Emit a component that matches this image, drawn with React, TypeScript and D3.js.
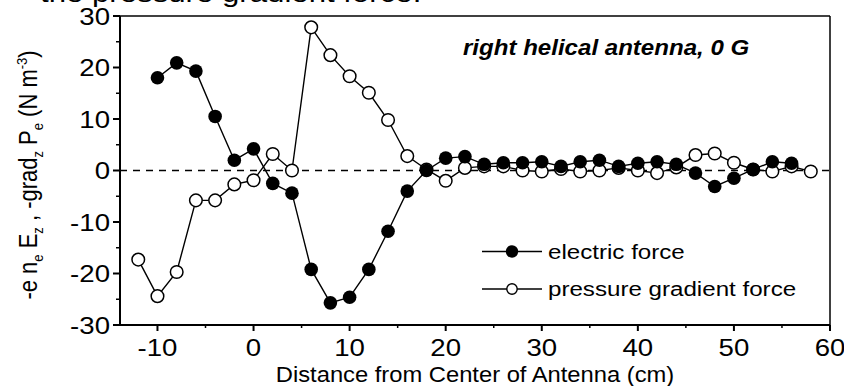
import * as d3 from 'd3';

// distance from antenna centre (cm)
const electricX = [-10, -8, -6, -4, -2, 0, 2, 4, 6, 8, 10, 12, 14, 16, 18, 20, 22, 24, 26, 28, 30, 32, 34, 36, 38, 40, 42, 44, 46, 48, 50, 52, 54, 56];
// -e n_e E_z  (N m^-3)
const electricForce = [18, 20.9, 19.3, 10.5, 2, 4.2, -2.5, -4.4, -19.2, -25.7, -24.6, -19.2, -11.8, -4, 0, 2.4, 2.7, 1.2, 1.5, 1.5, 1.7, 0.8, 1.7, 2, 0.8, 1.4, 1.7, 1.2, -0.5, -3.1, -1.5, 0.2, 1.7, 1.4];

const pressureX = [-12, -10, -8, -6, -4, -2, 0, 2, 4, 6, 8, 10, 12, 14, 16, 18, 20, 22, 24, 26, 28, 30, 32, 34, 36, 38, 40, 42, 44, 46, 48, 50, 52, 54, 56, 58];
// -grad_z P_e  (N m^-3)
const pressureForce = [-17.3, -24.4, -19.7, -5.8, -5.8, -2.7, -1.9, 3.2, 0, 27.8, 22.4, 18.3, 15.1, 9.8, 2.8, 0.2, -2, 0.5, 0.8, 0.8, 0, -0.2, 0.3, -0.2, 0, 0.5, 0, -0.5, 0.6, 3, 3.3, 1.5, 0.2, -0.2, 0.8, -0.2];

const xTicks = [-10, 0, 10, 20, 30, 40, 50, 60];
const xMinorTicks = [-5, 5, 15, 25, 35, 45, 55];
const yTicks = [-30, -20, -10, 0, 10, 20, 30];
const yMinorTicks = [-25, -15, -5, 5, 15, 25];

const legendLabels = ['electric force', 'pressure gradient force'];

const W = 844;
const H = 386;
const FONT = '"Liberation Sans", Arial, Helvetica, sans-serif';
const SX = 1.2; // the scan is stretched sideways

function Txt({ x, y, size, sx = SX, anchor = 'start', weight = 'normal', italic = false, children }: any) {
  return (
    <g transform={`translate(${x},${y}) scale(${sx},1)`}>
      <text
        fontFamily={FONT}
        fontSize={size}
        fontWeight={weight}
        fontStyle={italic ? 'italic' : 'normal'}
        textAnchor={anchor}
        fill="#000"
      >
        {children}
      </text>
    </g>
  );
}

export default function App() {
  const x = d3.scaleLinear().domain([-13.9, 60]).range([120, 830]);
  const y = d3.scaleLinear().domain([-30, 30]).range([325, 16]);
  const [x0, x1] = x.range();
  const [yb, yt] = y.range();

  const line = d3
    .line<[number, number]>()
    .x(d => x(d[0]))
    .y(d => y(d[1]));

  const elec: [number, number][] = electricX.map((v, i) => [v, electricForce[i]]);
  const pres: [number, number][] = pressureX.map((v, i) => [v, pressureForce[i]]);

  const legY = [251.5, 289];

  return (
    <svg width={W} height={H} style={{ position: 'absolute', left: 0, top: 0, background: '#fff' }}>
      <rect width={W} height={H} fill="#fff" />

      {/* caption text cut off at the top of the scan */}
      <Txt x={40} y={2} size={26}>the pressure gradient force.</Txt>

      {/* zero line */}
      <line x1={x0} x2={x1} y1={y(0)} y2={y(0)} stroke="#000" strokeWidth={1.3} strokeDasharray="7,6" />

      {/* frame */}
      <line x1={x0} x2={x1} y1={yt} y2={yt} stroke="#000" strokeWidth={1.3} />
      <line x1={x1} x2={x1} y1={yt} y2={yb} stroke="#000" strokeWidth={1.5} />
      <line x1={x0} x2={x1} y1={yb} y2={yb} stroke="#000" strokeWidth={2} />
      <line x1={x0} x2={x0} y1={yt} y2={yb} stroke="#000" strokeWidth={2} />

      {/* x ticks */}
      {xTicks.map(t => (
        <g key={'xt' + t}>
          <line x1={x(t)} x2={x(t)} y1={yb} y2={yb + 6} stroke="#000" strokeWidth={2} />
          <Txt x={x(t)} y={356} size={23} anchor="middle">{t}</Txt>
        </g>
      ))}
      {xMinorTicks.map(t => (
        <line key={'xm' + t} x1={x(t)} x2={x(t)} y1={yb} y2={yb + 3} stroke="#000" strokeWidth={1.5} />
      ))}

      {/* y ticks */}
      {yTicks.map(t => (
        <g key={'yt' + t}>
          <line x1={x0 - 7} x2={x0} y1={y(t)} y2={y(t)} stroke="#000" strokeWidth={2} />
          <Txt x={110} y={y(t) + 8.5} size={23} anchor="end">{t}</Txt>
        </g>
      ))}
      {yMinorTicks.map(t => (
        <line key={'ym' + t} x1={x0 - 4} x2={x0} y1={y(t)} y2={y(t)} stroke="#000" strokeWidth={1.5} />
      ))}

      {/* series */}
      <path d={line(pres) || ''} fill="none" stroke="#000" strokeWidth={1.4} />
      <path d={line(elec) || ''} fill="none" stroke="#000" strokeWidth={1.4} />
      {pres.map((d, i) => (
        <circle key={'p' + i} cx={x(d[0])} cy={y(d[1])} r={6.3} fill="#fff" stroke="#000" strokeWidth={1.5} />
      ))}
      {elec.map((d, i) => (
        <circle key={'e' + i} cx={x(d[0])} cy={y(d[1])} r={6.8} fill="#000" />
      ))}

      {/* annotation */}
      <Txt x={463} y={55} size={21.5} sx={1.12} weight="bold" italic>right helical antenna, 0 G</Txt>

      {/* legend */}
      {legendLabels.map((lab, i) => (
        <g key={lab}>
          <line x1={482} x2={542} y1={legY[i]} y2={legY[i]} stroke="#000" strokeWidth={1.3} />
          {i === 0 ? (
            <circle cx={512} cy={legY[i]} r={6.2} fill="#000" />
          ) : (
            <circle cx={512} cy={legY[i]} r={5.2} fill="#fff" stroke="#000" strokeWidth={1.4} />
          )}
          <Txt x={548} y={legY[i] + 7} size={21} sx={1.15}>{lab}</Txt>
        </g>
      ))}

      {/* axis titles */}
      <Txt x={475} y={382} size={22} sx={1.08} anchor="middle">Distance from Center of Antenna (cm)</Txt>

      <g transform="translate(37,175) rotate(-90) scale(1,1.15)">
        <text fontFamily={FONT} fontSize={22} textAnchor="middle" fill="#000">
          -e n<tspan fontSize={13} dy={5}>e</tspan>
          <tspan dy={-5}> E</tspan>
          <tspan fontSize={13} dy={5}>z</tspan>
          <tspan dy={-5}> , -grad</tspan>
          <tspan fontSize={13} dy={5}>z</tspan>
          <tspan dy={-5}> P</tspan>
          <tspan fontSize={13} dy={5}>e</tspan>
          <tspan dy={-5}> (N m</tspan>
          <tspan fontSize={13} dy={-9}>-3</tspan>
          <tspan dy={9}>)</tspan>
        </text>
      </g>
    </svg>
  );
}
